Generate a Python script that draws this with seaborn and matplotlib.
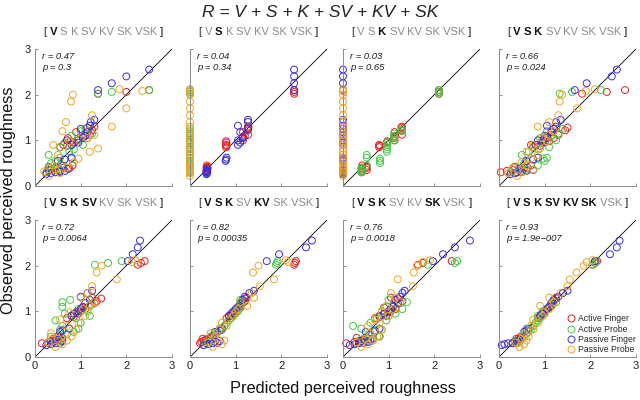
import matplotlib

matplotlib.use("Agg")

import matplotlib.pyplot as plt
import numpy as np
import pandas as pd
import seaborn as sns
from matplotlib.lines import Line2D

# observed roughness per condition (same in every panel)
af_obs = [0.30, 0.33, 0.35, 0.38, 0.40, 0.40, 0.42, 0.45, 0.85, 0.88, 0.90, 0.95,
          0.98, 1.00, 1.05, 1.08, 1.12, 1.18, 1.22, 1.28, 1.30, 2.02, 2.06, 2.10]
ap_obs = [0.30, 0.33, 0.36, 0.40, 0.45, 0.50, 0.55, 0.60, 0.62, 0.68, 0.75, 0.80,
          0.85, 0.90, 0.95, 1.00, 1.05, 1.10, 1.15, 1.20, 1.25, 2.02, 2.06, 2.10]
pf_obs = [0.26, 0.28, 0.30, 0.31, 0.33, 0.35, 0.38, 0.55, 0.58, 0.62, 0.90, 0.95,
          1.00, 1.05, 1.10, 1.18, 1.25, 1.32, 1.40, 1.45, 2.10, 2.25, 2.40, 2.55]
pp_obs = [0.22, 0.28, 0.32, 0.36, 0.40, 0.45, 0.52, 0.60, 0.68, 0.75, 0.82, 0.90,
          0.98, 1.05, 1.12, 1.20, 1.30, 1.40, 1.55, 1.70, 1.85, 2.00, 2.08, 2.12]

# predicted roughness, one list per model (panel)
af_pred = [
    [0.25, 0.55, 0.35, 0.75, 0.45, 0.62, 0.30, 0.82, 0.55, 0.70, 0.62, 0.85,
     0.78, 0.95, 0.72, 1.05, 1.20, 0.90, 1.25, 1.15, 1.30, 1.38, 2.00, 2.50],
    [0.36, 0.37, 0.37, 0.38, 0.36, 0.37, 0.38, 0.37, 0.79, 0.80, 0.79, 0.80,
     0.79, 1.16, 1.15, 1.16, 1.27, 1.16, 1.27, 1.28, 1.27, 2.28, 2.28, 2.28],
    [0.41, 0.42, 0.52, 0.41, 0.52, 0.41, 0.52, 0.42, 0.79, 0.80, 0.79, 0.96,
     0.97, 1.13, 1.12, 1.13, 1.29, 1.13, 1.29, 1.28, 1.29, 2.10, 2.10, 2.10],
    [0.04, 0.17, 0.30, 0.45, 0.55, 0.62, 0.35, 0.70, 0.75, 0.90, 0.70, 1.00,
     1.10, 0.95, 1.20, 1.05, 1.30, 1.15, 1.45, 1.50, 1.25, 1.82, 2.36, 2.76],
    [0.15, 0.30, 0.35, 0.45, 0.55, 0.40, 0.60, 0.50, 0.70, 0.85, 0.80, 0.95,
     0.90, 1.00, 1.10, 1.05, 1.20, 1.30, 1.35, 1.45, 1.25, 2.25, 2.32, 2.40],
    [0.22, 0.25, 0.30, 0.35, 0.28, 0.40, 0.45, 0.50, 0.80, 0.85, 0.90, 0.95,
     1.00, 1.00, 1.05, 1.10, 1.10, 1.15, 1.20, 1.20, 1.25, 2.28, 2.30, 2.32],
    [0.07, 0.25, 0.35, 0.45, 0.55, 0.65, 0.30, 0.80, 0.70, 0.80, 0.95, 0.90,
     1.00, 1.05, 1.15, 0.90, 1.10, 1.25, 1.30, 1.20, 1.05, 1.64, 1.75, 2.38],
    [0.30, 0.35, 0.40, 0.45, 0.38, 0.42, 0.50, 0.48, 0.85, 0.90, 0.95, 0.95,
     1.00, 1.00, 1.05, 1.10, 1.15, 1.15, 1.20, 1.25, 1.25, 2.05, 2.10, 2.15],
]
ap_pred = [
    [0.25, 0.40, 0.55, 0.30, 0.62, 0.35, 0.45, 0.80, 0.55, 0.30, 0.75, 0.85,
     0.55, 1.05, 0.65, 0.92, 1.15, 0.80, 1.25, 1.00, 1.10, 1.38, 1.68, 2.50],
    [0.0, 0.0, 0.0, 0.0, 0.0, 0.0, 0.0, 0.0, 0.0, 0.0, 0.0, 0.0,
     0.0, 0.0, 0.0, 0.0, 0.0, 0.0, 0.0, 0.0, 0.0, 0.0, 0.0, 0.0],
    [0.40, 0.41, 0.40, 0.41, 0.52, 0.81, 0.81, 0.81, 0.52, 0.52, 0.96, 0.96,
     0.96, 0.97, 0.96, 1.12, 1.12, 1.12, 1.12, 1.29, 1.29, 2.10, 2.10, 2.10],
    [0.25, 0.45, 0.60, 0.35, 0.85, 0.55, 1.00, 0.96, 1.05, 0.50, 0.65, 0.85,
     1.10, 0.80, 0.95, 1.25, 0.90, 1.15, 1.30, 1.05, 1.40, 1.33, 1.60, 2.23],
    [0.30, 0.40, 0.55, 0.50, 0.35, 0.70, 0.85, 0.55, 0.95, 0.60, 1.00, 0.45,
     0.90, 1.20, 0.65, 1.15, 0.95, 0.60, 1.25, 0.60, 0.77, 1.31, 1.60, 1.90],
    [0.35, 0.40, 0.45, 0.50, 0.45, 0.55, 0.60, 0.70, 0.65, 0.75, 0.80, 0.85,
     0.90, 0.95, 1.00, 1.05, 1.05, 1.10, 1.10, 1.15, 1.10, 1.88, 1.90, 1.92],
    [0.30, 0.50, 0.65, 0.45, 0.80, 0.55, 0.70, 0.85, 0.40, 0.22, 0.60, 0.95,
     0.75, 1.00, 1.15, 0.85, 1.30, 0.95, 1.10, 1.40, 1.00, 1.86, 2.45, 2.50],
    [0.40, 0.45, 0.35, 0.50, 0.55, 0.60, 0.65, 0.70, 0.60, 0.75, 0.80, 0.85,
     0.90, 0.85, 1.00, 0.95, 1.05, 1.10, 1.15, 1.25, 1.20, 2.05, 2.10, 2.12],
]
pf_pred = [
    [0.25, 0.35, 0.45, 0.55, 0.65, 0.30, 0.72, 0.50, 0.65, 0.80, 0.80, 0.95,
     0.70, 1.05, 1.10, 1.15, 1.00, 1.20, 1.22, 1.30, 1.38, 1.68, 2.00, 2.50],
    [0.36, 0.37, 0.37, 0.38, 0.36, 0.37, 0.38, 0.78, 0.79, 0.80, 1.05, 1.10,
     1.05, 1.15, 1.20, 1.10, 1.27, 1.05, 1.27, 1.27, 2.28, 2.28, 2.28, 2.28],
    [0.0, 0.0, 0.0, 0.0, 0.0, 0.0, 0.0, 0.0, 0.0, 0.0, 0.0, 0.0,
     0.0, 0.0, 0.0, 0.0, 0.0, 0.0, 0.0, 0.0, 0.0, 0.0, 0.0, 0.0],
    [0.25, 0.35, 0.40, 0.50, 0.60, 0.75, 0.45, 0.60, 0.75, 0.85, 0.80, 0.95,
     0.85, 1.05, 1.00, 1.15, 1.20, 1.05, 1.25, 1.35, 1.66, 1.92, 2.47, 2.58],
    [0.25, 0.35, 0.45, 0.55, 0.40, 0.60, 0.50, 0.55, 0.60, 0.75, 0.80, 0.85,
     0.95, 1.00, 1.05, 1.10, 1.20, 1.00, 1.15, 1.25, 2.03, 2.14, 2.25, 2.30],
    [0.30, 0.40, 0.50, 0.60, 0.55, 0.65, 0.45, 0.55, 0.65, 0.70, 0.85, 0.90,
     0.95, 1.00, 1.05, 1.10, 1.15, 1.20, 1.30, 1.40, 1.68, 1.95, 2.54, 2.67],
    [0.15, 0.25, 0.35, 0.45, 0.55, 0.40, 0.60, 0.50, 0.70, 0.80, 0.80, 0.90,
     1.00, 1.05, 1.10, 1.20, 1.15, 1.25, 1.30, 1.35, 1.97, 2.19, 2.45, 2.78],
    [0.06, 0.12, 0.20, 0.30, 0.35, 0.40, 0.45, 0.55, 0.60, 0.65, 0.90, 0.95,
     1.00, 1.05, 1.10, 1.15, 1.20, 1.30, 1.40, 1.50, 2.10, 2.43, 2.58, 2.64],
]
pp_pred = [
    [0.30, 0.55, 0.20, 0.45, 0.70, 0.40, 0.85, 0.95, 0.50, 1.20, 1.38, 0.40,
     0.75, 1.15, 1.30, 0.60, 1.68, 0.68, 1.25, 2.00, 0.79, 0.83, 2.35, 1.85],
    [0.0, 0.0, 0.0, 0.0, 0.0, 0.0, 0.0, 0.0, 0.0, 0.0, 0.0, 0.0,
     0.0, 0.0, 0.0, 0.0, 0.0, 0.0, 0.0, 0.0, 0.0, 0.0, 0.0, 0.0],
    [0.0, 0.0, 0.0, 0.0, 0.0, 0.0, 0.0, 0.0, 0.0, 0.0, 0.0, 0.0,
     0.0, 0.0, 0.0, 0.0, 0.0, 0.0, 0.0, 0.0, 0.0, 0.0, 0.0, 0.0],
    [0.40, 0.20, 0.55, 0.75, 0.30, 0.60, 0.50, 0.70, 0.85, 0.60, 0.90, 0.75,
     1.05, 0.95, 1.10, 1.20, 0.85, 1.10, 1.30, 1.71, 1.33, 1.38, 1.90, 2.10],
    [0.45, 0.60, 0.30, 0.70, 0.50, 0.80, 0.35, 0.90, 0.70, 0.95, 0.55, 1.10,
     0.75, 1.05, 1.20, 1.30, 1.00, 1.15, 1.25, 1.79, 1.35, 1.46, 2.12, 2.20],
    [0.50, 0.70, 0.40, 0.75, 0.60, 0.55, 0.45, 0.65, 0.80, 0.70, 0.85, 0.95,
     1.00, 1.05, 1.25, 1.10, 1.40, 1.35, 1.53, 1.84, 1.38, 1.50, 2.15, 2.10],
    [0.40, 0.55, 0.30, 0.65, 0.50, 0.75, 0.60, 0.85, 0.55, 0.80, 0.70, 1.00,
     0.85, 1.10, 0.95, 1.25, 1.15, 1.05, 1.53, 1.20, 1.55, 1.62, 1.75, 1.90],
    [0.45, 0.55, 0.35, 0.60, 0.50, 0.65, 0.55, 0.75, 0.70, 0.85, 0.75, 0.95,
     1.00, 1.10, 0.90, 1.20, 1.10, 1.35, 1.50, 1.55, 1.70, 1.85, 1.92, 2.05],
]

conditions = ["Active Finger", "Active Probe", "Passive Finger", "Passive Probe"]
colors = ["#e82020", "#44c844", "#3a2fd8", "#f2a526"]

terms = ["V", "S", "K", "SV", "KV", "SK", "VSK"]
included = [
    ["V"], ["S"], ["K"], ["V", "S", "K"], ["V", "S", "K", "SV"],
    ["V", "S", "K", "KV"], ["V", "S", "K", "SK"], ["V", "S", "K", "SV", "KV", "SK"],
]
r_vals = ["0.47", "0.04", "0.03", "0.66", "0.72", "0.82", "0.76", "0.93"]
p_vals = ["0.3", "0.34", "0.65", "0.024", "0.0064", "0.00035", "0.0018", "1.9e\u2212007"]

rows = []
for cond, obs, preds in zip(conditions,
                            [af_obs, ap_obs, pf_obs, pp_obs],
                            [af_pred, ap_pred, pf_pred, pp_pred]):
    for k, pred in enumerate(preds):
        for x, y in zip(pred, obs):
            rows.append({"panel": k, "condition": cond, "predicted": x, "observed": y})
df = pd.DataFrame(rows)

sns.set_style("ticks")
plt.rcParams["font.family"] = ["Liberation Sans", "DejaVu Sans"]

fig = plt.figure(figsize=(6.4, 4.0), dpi=100)
W, H = 640, 400
col_left = [35, 190, 343, 499]
row_bottom = [186, 357]
size = 137

axes = []
for k in range(8):
    r, c = divmod(k, 4)
    ax = fig.add_axes([col_left[c] / W, (H - row_bottom[r]) / H, size / W, size / H])
    axes.append(ax)
    sub = df[df["panel"] == k]
    ax.plot([0, 3], [0, 3], color="black", lw=0.6, zorder=1)
    sns.scatterplot(data=sub, x="predicted", y="observed", hue="condition",
                    hue_order=conditions, palette=colors, s=25, linewidth=0.7,
                    legend=False, ax=ax, zorder=2, clip_on=False)
    coll = ax.collections[-1]
    coll.set_edgecolors(coll.get_facecolors())
    coll.set_facecolors("none")

    ax.set_xlim(0, 3)
    ax.set_ylim(0, 3)
    ax.set_xticks([0, 1, 2, 3])
    ax.set_yticks([0, 1, 2, 3])
    ax.tick_params(direction="in", length=2, width=0.5, colors="#666666",
                   labelsize=8, labelcolor="#222222", pad=3)
    if c != 0:
        ax.set_yticklabels([])
    if r != 1:
        ax.set_xticklabels([])
    ax.set_xlabel("")
    ax.set_ylabel("")
    for side in ["top", "right"]:
        ax.spines[side].set_visible(False)
    for side in ["left", "bottom"]:
        ax.spines[side].set_color("#8a8a8a")
        ax.spines[side].set_linewidth(0.7)

    ax.text(0.05, 0.945, f"r = {r_vals[k]}", transform=ax.transAxes, fontsize=6.8,
            style="italic", color="#222222", va="center")
    ax.text(0.05, 0.865, f"p = {p_vals[k]}", transform=ax.transAxes, fontsize=6.8,
            style="italic", color="#222222", va="center")

# model titles: included terms bold black, the others grey
title_parts = []
for k, ax in enumerate(axes):
    first = ax.text(0.5, 1.09, "[", transform=ax.transAxes, fontsize=8,
                    color="#333333", ha="left", va="bottom")
    prev = first
    pieces = [first]
    for t in terms + ["]"]:
        on = t in included[k]
        prev = ax.annotate(" " + t, xy=(1, 0), xycoords=prev, fontsize=8,
                           ha="left", va="bottom",
                           fontweight="bold" if on else "normal",
                           color="#111111" if on or t == "]" else "#8c8c8c")
        pieces.append(prev)
    title_parts.append((ax, first, pieces))

fig.canvas.draw()
renderer = fig.canvas.get_renderer()
for ax, first, pieces in title_parts:
    x0 = min(p.get_window_extent(renderer).x0 for p in pieces)
    x1 = max(p.get_window_extent(renderer).x1 for p in pieces)
    ab = ax.get_window_extent(renderer)
    shift = (ab.x0 + ab.x1) / 2 - (x0 + x1) / 2
    first.set_x(0.5 + shift / ab.width)

handles = [Line2D([], [], marker="o", linestyle="none", markerfacecolor="none",
                  markeredgecolor=col, markersize=5, markeredgewidth=0.7)
           for col in colors]
axes[7].legend(handles, conditions, loc="lower right", bbox_to_anchor=(1.0, 0.02),
               frameon=False, fontsize=6.2, handletextpad=0.3, labelspacing=0.15,
               borderaxespad=0.0, borderpad=0.0, handlelength=1.0)

fig.text(0.5, 0.968, "R = V + S + K + SV + KV + SK", ha="center", va="center",
         fontsize=12.5, style="italic", color="#222222")
fig.text(0.536, 0.028, "Predicted perceived roughness", ha="center", va="center",
         fontsize=11.8, color="#111111")
fig.text(0.014, 0.5, "Observed perceived roughness", ha="center", va="center",
         rotation=90, fontsize=11.8, color="#111111")

fig.savefig("out.png", dpi=100)
